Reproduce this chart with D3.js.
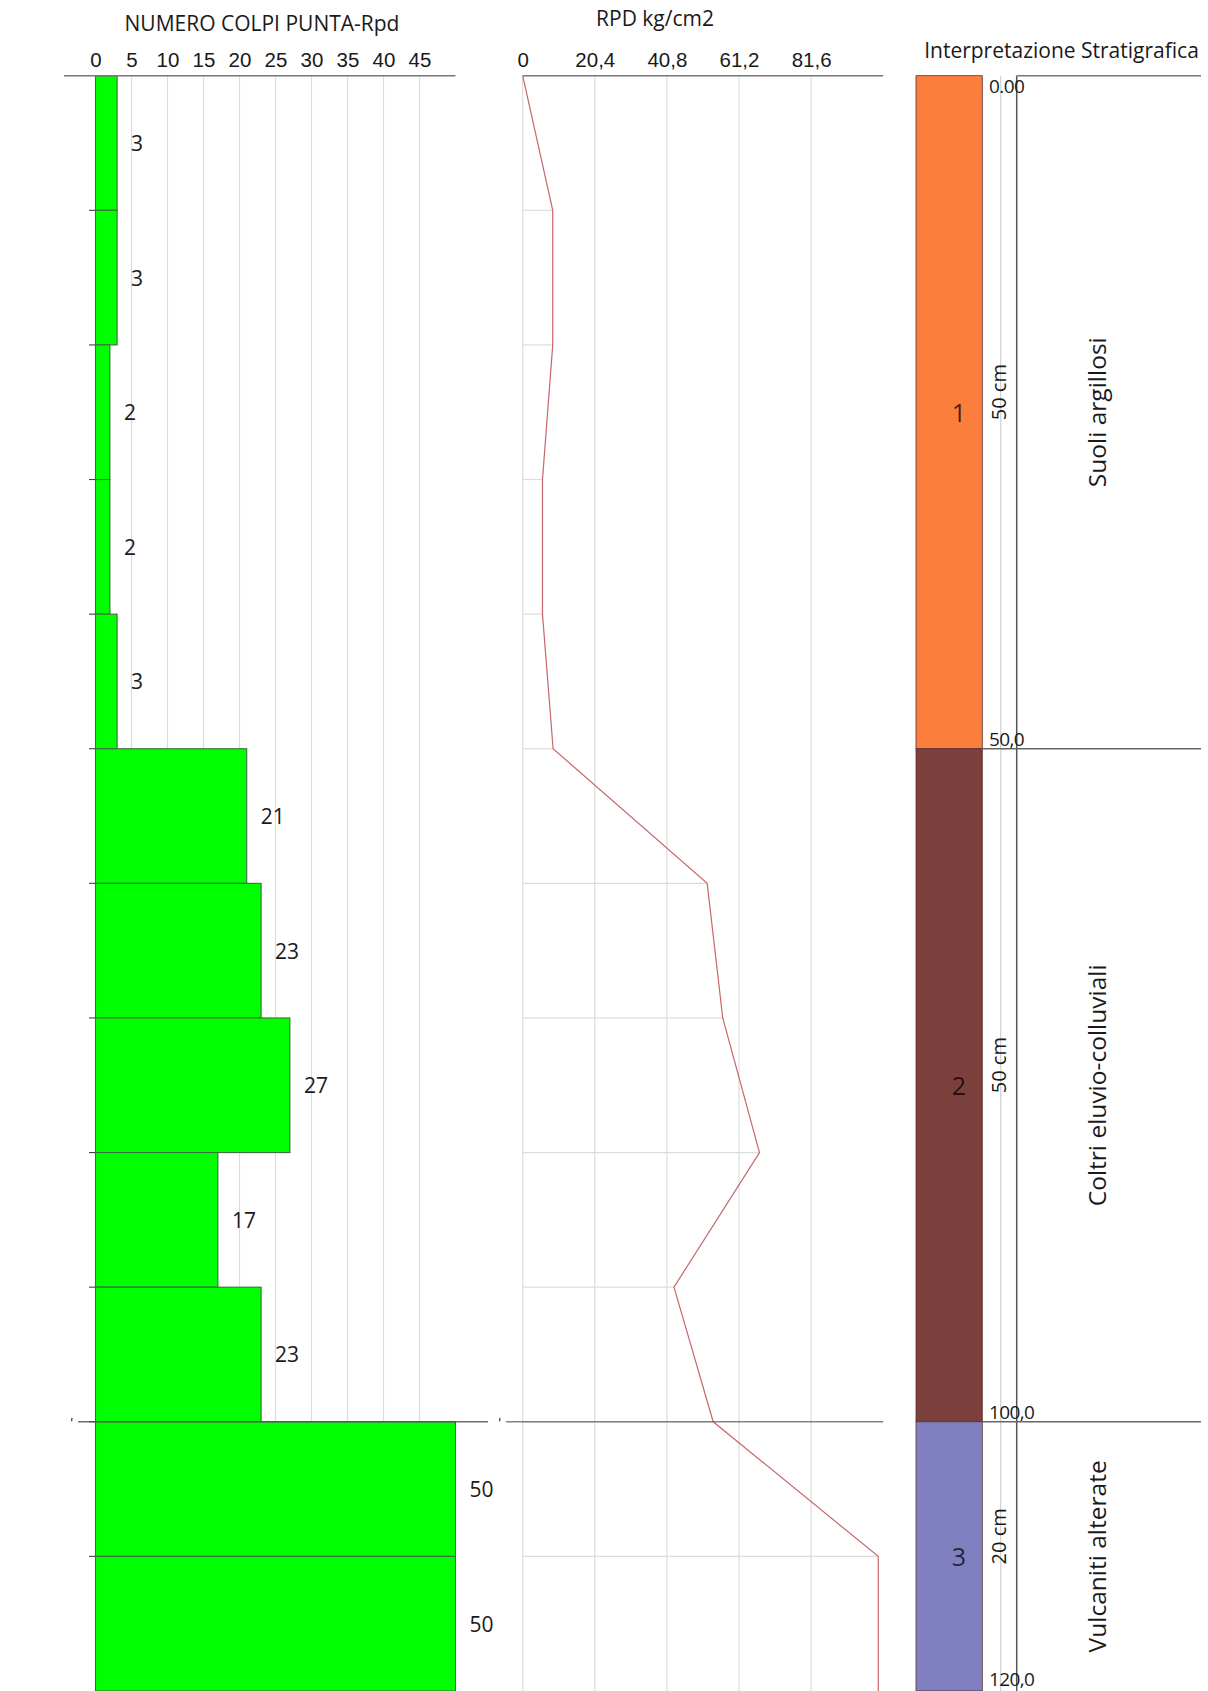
<!DOCTYPE html>
<html>
<head>
<meta charset="utf-8">
<script src="https://cdn.jsdelivr.net/npm/d3@7"></script>
<style>
  html, body { margin: 0; padding: 0; background: #fff; }
  svg { display: block; font-family: "Open Sans", "Noto Sans", sans-serif; }
</style>
</head>
<body>
<script>
// ---------- DATA ----------
const depthTops = [0, 10, 20, 30, 40, 50, 60, 70, 80, 90, 100, 110];   // cm
const depthStep = 10;
const blows = [3, 3, 2, 2, 3, 21, 23, 27, 17, 23, 50, 50];             // NUMERO COLPI
const rpdDepths = [0, 10, 20, 30, 40, 50, 60, 70, 80, 90, 100, 110, 120];
const rpdValues = [0, 8.5, 8.5, 5.6, 5.6, 8.6, 52.2, 56.6, 67.0, 42.8, 53.9, 100.6, 100.6];
const blowTicks = [0, 5, 10, 15, 20, 25, 30, 35, 40, 45];
const rpdTicks = [0, 20.4, 40.8, 61.2, 81.6];
const layerNames = ["Suoli argillosi", "Coltri eluvio-colluviali", "Vulcaniti alterate"];
const layerIds = ["1", "2", "3"];
const layerFrom = [0, 50, 100];
const layerTo = [50, 100, 120];
const layerThickness = ["50 cm", "50 cm", "20 cm"];
const layerColors = ["#fb7e3c", "#7b3f3c", "#8080c0"];
const depthLabelValues = [0, 50, 100, 120];
const depthLabelTexts = ["0.00", "50,0", "100,0", "120,0"];

const titleBlows = "NUMERO COLPI PUNTA-Rpd";
const titleRpd = "RPD kg/cm2";
const titleStrat = "Interpretazione Stratigrafica";

// ---------- SETUP ----------
const W = 1208, H = 1691;
const svg = d3.select("body").append("svg").attr("width", W).attr("height", H);

const y = d3.scaleLinear().domain([0, 120]).range([75.7, 1691]);
const xN = d3.scaleLinear().domain([0, 50]).range([95.5, 455.5]);
const xR = d3.scaleLinear().domain([0, 102]).range([522.7, 883.2]);

const textCol = "#1a1a1a";
const gridCol = "#dcdcdc";
const axisCol = "#777";

// ---------- LEFT PANEL: blows ----------
const gL = svg.append("g");
gL.selectAll("line.grid").data(blowTicks.filter(d => d > 0)).join("line")
  .attr("x1", d => xN(d)).attr("x2", d => xN(d))
  .attr("y1", y(0)).attr("y2", H)
  .attr("stroke", gridCol).attr("stroke-width", 1.2);

const bars = depthTops.map((d, i) => ({ top: d, bot: d + depthStep, v: blows[i] }));
gL.selectAll("rect.bar").data(bars).join("rect")
  .attr("x", xN(0)).attr("y", d => y(d.top))
  .attr("width", d => xN(d.v) - xN(0)).attr("height", d => y(d.bot) - y(d.top))
  .attr("fill", "#00ff00").attr("stroke", "#3c6e3c").attr("stroke-width", 1.1);

gL.selectAll("line.tk").data(depthTops.filter(d => d > 0)).join("line")
  .attr("x1", xN(0) - 6.5).attr("x2", xN(0))
  .attr("y1", d => y(d)).attr("y2", d => y(d))
  .attr("stroke", "#444").attr("stroke-width", 1.1);

gL.selectAll("text.val").data(bars).join("text")
  .attr("x", d => xN(d.v) + 14).attr("y", d => (y(d.top) + y(d.bot)) / 2)
  .attr("dominant-baseline", "central")
  .attr("font-size", 21).attr("fill", textCol)
  .text(d => d.v);

const axN = d3.axisTop(xN).tickValues(blowTicks).tickSize(0).tickPadding(9).tickFormat(d3.format("d"));
const gAxN = gL.append("g").attr("transform", `translate(0,${y(0)})`).call(axN);
gAxN.select(".domain").remove();
gAxN.selectAll("text").attr("font-size", 20.5).attr("fill", textCol).attr("font-family", null);
gL.append("line").attr("x1", 64).attr("x2", xN(50)).attr("y1", y(0)).attr("y2", y(0))
  .attr("stroke", axisCol).attr("stroke-width", 1.5);

gL.append("text").attr("x", 262).attr("y", 31).attr("text-anchor", "middle")
  .attr("font-size", 21).attr("fill", textCol).text(titleBlows);

// ---------- MIDDLE PANEL: RPD ----------
const gM = svg.append("g");
gM.selectAll("line.grid").data(rpdTicks).join("line")
  .attr("x1", d => xR(d)).attr("x2", d => xR(d))
  .attr("y1", y(0)).attr("y2", H)
  .attr("stroke", gridCol).attr("stroke-width", 1.2);

const rpdPts = rpdDepths.map((d, i) => ({ d, v: rpdValues[i] }));
gM.selectAll("line.h").data(rpdPts.filter(p => p.d > 0 && p.d < 120)).join("line")
  .attr("x1", xR(0)).attr("x2", p => xR(p.v))
  .attr("y1", p => y(p.d)).attr("y2", p => y(p.d))
  .attr("stroke", gridCol).attr("stroke-width", 1.2);

const axR = d3.axisTop(xR).tickValues(rpdTicks).tickSize(0).tickPadding(9)
  .tickFormat(d => d === 0 ? "0" : d3.format(".1f")(d).replace(".", ","));
const gAxR = gM.append("g").attr("transform", `translate(0,${y(0)})`).call(axR);
gAxR.select(".domain").remove();
gAxR.selectAll("text").attr("font-size", 20.5).attr("fill", textCol).attr("font-family", null);
gM.append("line").attr("x1", xR(0)).attr("x2", xR(102)).attr("y1", y(0)).attr("y2", y(0))
  .attr("stroke", axisCol).attr("stroke-width", 1.5);

gM.append("text").attr("x", 655).attr("y", 26).attr("text-anchor", "middle")
  .attr("font-size", 21).attr("fill", textCol).text(titleRpd);

// ---------- depth 100 separator across panels ----------
const sepY = y(100);
svg.append("line").attr("x1", 78).attr("x2", 488).attr("y1", sepY).attr("y2", sepY)
  .attr("stroke", "#555").attr("stroke-width", 1.6).attr("opacity", 0.85);
svg.append("line").attr("x1", 506).attr("x2", xR(102)).attr("y1", sepY).attr("y2", sepY)
  .attr("stroke", "#666").attr("stroke-width", 1.6).attr("opacity", 0.8);
[72, 500].forEach(xx => {
  svg.append("line").attr("x1", xx).attr("x2", xx - 0.5).attr("y1", sepY - 4).attr("y2", sepY - 0.5)
    .attr("stroke", "#555").attr("stroke-width", 1.4);
});

const line = d3.line().x(p => xR(p.v)).y(p => y(p.d));
gM.append("path").datum(rpdPts).attr("d", line)
  .attr("fill", "none").attr("stroke", "#c8666a").attr("stroke-width", 1.2);

// ---------- RIGHT PANEL: stratigraphy ----------
const gR = svg.append("g");
const colX0 = 916, colX1 = 982.3, lightX = 1000.7, darkX = 1016.7, rightEnd = 1201;

gR.append("line").attr("x1", lightX).attr("x2", lightX).attr("y1", y(0)).attr("y2", H)
  .attr("stroke", "#d0d0d0").attr("stroke-width", 1.2);
gR.append("line").attr("x1", darkX).attr("x2", darkX).attr("y1", y(0)).attr("y2", H)
  .attr("stroke", "#555").attr("stroke-width", 1.5);
gR.append("line").attr("x1", darkX).attr("x2", rightEnd).attr("y1", y(0)).attr("y2", y(0))
  .attr("stroke", axisCol).attr("stroke-width", 1.5);

const layers = layerNames.map((n, i) => ({
  name: n, id: layerIds[i], from: layerFrom[i], to: layerTo[i],
  th: layerThickness[i], color: layerColors[i]
}));

gR.selectAll("rect.layer").data(layers).join("rect")
  .attr("x", colX0).attr("y", d => y(d.from))
  .attr("width", colX1 - colX0).attr("height", d => y(d.to) - y(d.from))
  .attr("fill", d => d.color).attr("stroke", "#5a3030").attr("stroke-width", 0.8);

gR.selectAll("line.bnd").data(layers.filter(d => d.from > 0)).join("line")
  .attr("x1", colX1).attr("x2", rightEnd)
  .attr("y1", d => y(d.from)).attr("y2", d => y(d.from))
  .attr("stroke", "#666").attr("stroke-width", 1.6);

gR.selectAll("text.id").data(layers).join("text")
  .attr("x", 966).attr("y", d => (y(d.from) + y(d.to)) / 2)
  .attr("text-anchor", "end").attr("dominant-baseline", "central")
  .attr("font-size", 25).attr("fill", "#000").attr("fill-opacity", 0.72)
  .text(d => d.id);

gR.selectAll("text.th").data(layers).join("text")
  .attr("transform", d => `translate(1006,${(y(d.from) + y(d.to)) / 2 + 8}) rotate(-90)`)
  .attr("text-anchor", "start")
  .attr("font-size", 20).attr("fill", textCol)
  .text(d => d.th);

gR.selectAll("text.name").data(layers).join("text")
  .attr("transform", d => `translate(1106,${(y(d.from) + y(d.to)) / 2}) rotate(-90)`)
  .attr("text-anchor", "middle")
  .attr("font-size", 24.5).attr("fill", textCol)
  .text(d => d.name);

gR.selectAll("text.dl").data(depthLabelValues).join("text")
  .attr("x", 989).attr("y", (d, i) => i === 0 ? y(d) + 17 : (i === 3 ? y(d) - 5 : y(d) - 3))
  .attr("font-size", 19).attr("fill", textCol).attr("letter-spacing", -0.6)
  .text((d, i) => depthLabelTexts[i]);

gR.append("text").attr("x", 1061.5).attr("y", 58).attr("text-anchor", "middle")
  .attr("font-size", 21).attr("fill", textCol).text(titleStrat);
</script>
</body>
</html>
